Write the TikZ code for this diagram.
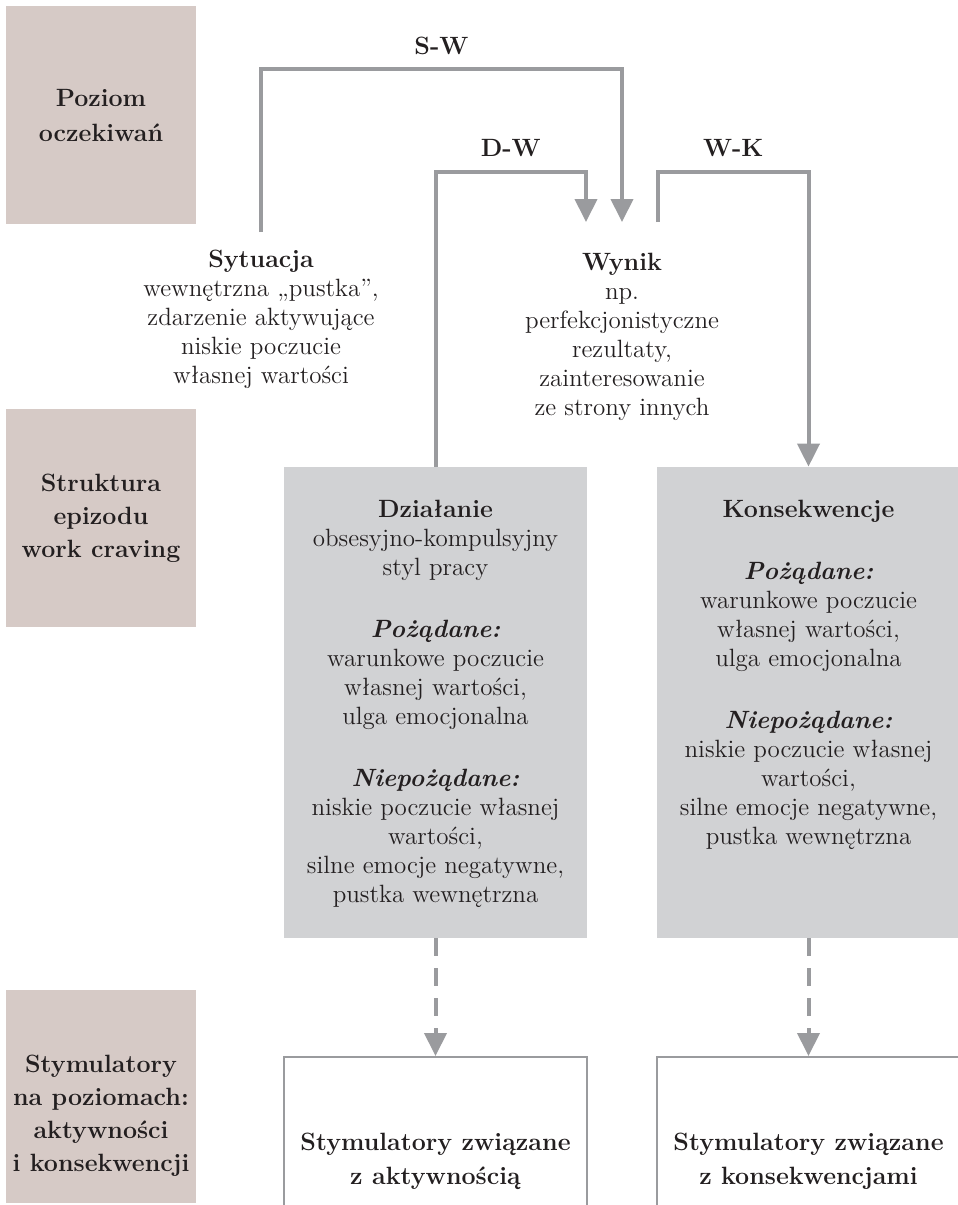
\documentclass[tikz,border=0pt]{standalone}
\usetikzlibrary{arrows.meta}
\definecolor{labelbg}{HTML}{D6CAC6}
\definecolor{boxbg}{HTML}{D1D2D4}
\definecolor{linegray}{HTML}{9A9B9E}
\definecolor{ink}{HTML}{231F20}
\begin{document}
\begin{tikzpicture}[x=0.5pt,y=-0.5pt,
  every node/.style={text=ink},
  levelbox/.style={fill=labelbg, minimum width=95pt, inner sep=0pt, align=center,
    font=\bfseries\fontsize{12.5}{16.5}\selectfont},
  leveltext/.style={inner sep=0pt, align=center, font=\bfseries\fontsize{12.5}{16.5}\selectfont},
  graybox/.style={fill=boxbg, minimum width=151.5pt, minimum height=235.5pt, inner sep=0pt},
  boxtext/.style={align=center, inner sep=0pt, font=\fontsize{12.5}{14.5}\selectfont},
  stimbox/.style={draw=linegray, line width=1pt, minimum width=151.5pt, minimum height=104pt,
    inner sep=0pt, align=center, font=\bfseries\fontsize{12.5}{17}\selectfont},
  freetext/.style={align=center, inner sep=0pt, font=\fontsize{12.5}{14.5}\selectfont},
  linklabel/.style={font=\bfseries\fontsize{12.5}{14.5}\selectfont, inner sep=0pt},
  conn/.style={draw=linegray, line width=2pt, -{Triangle[width=11pt,length=11.5pt]}},
  dashconn/.style={draw=linegray, line width=2pt, dash pattern=on 9pt off 6pt,
    -{Triangle[width=11pt,length=11.5pt]}}]
\useasboundingbox (0,0) rectangle (958,1205);

% level labels on the left
\node[levelbox, minimum height=109pt] (lvA) at (101,115) {Poziom\\[1pt]oczekiwań};
\node[levelbox, minimum height=109pt] (lvB) at (101,518) {Struktura\\epizodu\\work craving};
\node[levelbox, minimum height=106.5pt] (lvC) at (101,1096.5) {};
\node[leveltext] (lvCtext) at (101,1116) {Stymulatory\\na poziomach:\\aktywności\\i konsekwencji};

% situation and result
\node[freetext, anchor=north, outer ysep=9pt] (sit) at (261,232)
  {\textbf{Sytuacja}\\wewnętrzna „pustka”,\\zdarzenie aktywujące\\niskie poczucie\\własnej wartości};
\node[freetext, anchor=north, outer ysep=15.5pt] (res) at (622,222)
  {\textbf{Wynik}\\np.\\perfekcjonistyczne\\rezultaty,\\zainteresowanie\\ze strony innych};

% episode structure boxes
\node[graybox] (act) at (435.5,702.5) {};
\node[graybox] (cons) at (808.5,702.5) {};
\node[boxtext, anchor=north] (acttext) at (435.5,500)
  {\textbf{Działanie}\\obsesyjno-kompulsyjny\\styl pracy\\[16.5pt]
   \textbf{\textit{Pożądane:}}\\warunkowe poczucie\\własnej wartości,\\ulga emocjonalna\\[16.5pt]
   \textbf{\textit{Niepożądane:}}\\niskie poczucie własnej\\wartości,\\silne emocje negatywne,\\pustka wewnętrzna};
\node[boxtext, anchor=north] (constext) at (808.5,500)
  {\textbf{Konsekwencje}\\[16.5pt]
   \textbf{\textit{Pożądane:}}\\warunkowe poczucie\\własnej wartości,\\ulga emocjonalna\\[16.5pt]
   \textbf{\textit{Niepożądane:}}\\niskie poczucie własnej\\wartości,\\silne emocje negatywne,\\pustka wewnętrzna};

% stimulator boxes (open towards the bottom edge)
\node[stimbox] (stimA) at (435.5,1161) {Stymulatory związane\\z aktywnością};
\node[stimbox] (stimB) at (808.5,1161) {Stymulatory związane\\z konsekwencjami};

% expectation links
\draw[conn] (sit.north) -- ++(0,-163) -| node[linklabel, pos=0.25, above=6pt] (lblSW) {S-W} (res.north);
\draw[conn] (act.north) -- ++(0,-295) -| node[linklabel, pos=0.25, above=6.5pt] (lblDW) {D-W} ([xshift=-18pt]res.north);
\draw[conn] ([xshift=18pt]res.north) -- ++(0,-50) -| node[linklabel, pos=0.25, above=6.5pt] (lblWK) {W-K} (cons.north);

% links to stimulators
\draw[dashconn] (act.south) -- (stimA.north);
\draw[dashconn] (cons.south) -- (stimB.north);
\end{tikzpicture}
\end{document}
